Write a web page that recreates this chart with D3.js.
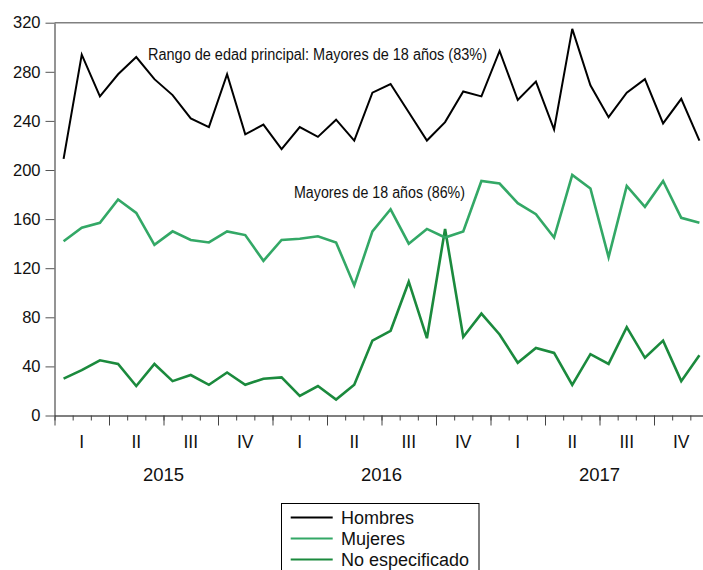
<!DOCTYPE html>
<html>
<head>
<meta charset="utf-8">
<script src="https://cdn.jsdelivr.net/npm/d3@7"></script>
<style>
  html, body { margin: 0; padding: 0; background: #fff; overflow: hidden; }
  svg { display: block; font-family: "Liberation Sans", Arial, sans-serif; }
</style>
</head>
<body>
<svg id="chart" width="703" height="570"></svg>
<script>
// ---- data ----
const months = d3.range(36); // Jan 2015 .. Dec 2017
const quarterLabels = ["I", "II", "III", "IV", "I", "II", "III", "IV", "I", "II", "III", "IV"];
const yearLabels = ["2015", "2016", "2017"];
const yTicks = [0, 40, 80, 120, 160, 200, 240, 280, 320];

const hombres = [209, 294, 260, 278, 292, 274, 261, 242, 235, 278, 229, 237,
                 217, 235, 227, 241, 224, 263, 270, 247, 224, 239, 264, 260,
                 297, 257, 272, 233, 315, 269, 243, 263, 274, 238, 258, 224];
const mujeres = [142, 153, 157, 176, 165, 139, 150, 143, 141, 150, 147, 126,
                 143, 144, 146, 141, 106, 150, 168, 140, 152, 145, 150, 191,
                 189, 173, 164, 145, 196, 185, 129, 187, 170, 191, 161, 157];
const noEspecificado = [30, 37, 45, 42, 24, 42, 28, 33, 25, 35, 25, 30,
                        31, 16, 24, 13, 25, 61, 69, 109, 63, 152, 64, 83,
                        66, 43, 55, 51, 25, 50, 42, 72, 47, 61, 28, 49];

const seriesNames = ["Hombres", "Mujeres", "No especificado"];
const seriesColors = ["#000000", "#33a866", "#1b8a3d"];
const annotations = ["Rango de edad principal: Mayores de 18 años (83%)", "Mayores de 18 años (86%)"];

// ---- layout ----
const svg = d3.select("#chart");
const mLeft = 54.5, mRight = 708.5, mTop = 22.7, mBottom = 415.5;

const x = d3.scaleLinear().domain([0, 36]).range([mLeft, mRight]);
const y = d3.scaleLinear().domain([0, 320]).range([mBottom, mTop]);

// frame (top border)
svg.append("line")
  .attr("x1", mLeft).attr("x2", mRight).attr("y1", mTop).attr("y2", mTop)
  .attr("stroke", "#808080").attr("stroke-width", 1.5);

// y axis
const yAxis = svg.append("g")
  .attr("transform", `translate(${mLeft},0)`)
  .call(d3.axisLeft(y).tickValues(yTicks).tickSize(9).tickPadding(5).tickSizeOuter(0));
yAxis.select(".domain").attr("stroke", "#707070").attr("stroke-width", 1.5);
yAxis.selectAll(".tick line").attr("stroke", "#555");
yAxis.selectAll(".tick text")
  .attr("font-size", 16.5).attr("fill", "#111")
  .attr("font-family", "Liberation Sans, Arial, sans-serif");

// x axis: minor (month) ticks
const xMinor = svg.append("g")
  .attr("transform", `translate(0,${mBottom})`)
  .call(d3.axisBottom(x).tickValues(d3.range(0, 37)).tickSize(5).tickFormat("").tickSizeOuter(0));
xMinor.select(".domain").attr("stroke", "#555").attr("stroke-width", 1.5);
xMinor.selectAll(".tick line").attr("stroke", "#444");

// x axis: major (quarter) ticks
const xMajor = svg.append("g")
  .attr("transform", `translate(0,${mBottom})`)
  .call(d3.axisBottom(x).tickValues(d3.range(0, 37, 3)).tickSize(10).tickFormat("").tickSizeOuter(0));
xMajor.select(".domain").remove();
xMajor.selectAll(".tick line").attr("stroke", "#444");

// quarter labels
svg.append("g").selectAll("text")
  .data(quarterLabels)
  .join("text")
  .attr("x", (d, i) => x(i * 3 + 1.5))
  .attr("y", 448)
  .attr("text-anchor", "middle")
  .attr("font-size", 17.5)
  .attr("fill", "#111")
  .text(d => d);

// year labels
svg.append("g").selectAll("text")
  .data(yearLabels)
  .join("text")
  .attr("x", (d, i) => x(i * 12 + 6))
  .attr("y", 480.5)
  .attr("text-anchor", "middle")
  .attr("font-size", 18.5)
  .attr("fill", "#111")
  .text(d => d);

// lines
const line = d3.line()
  .x((d, i) => x(i + 0.5))
  .y(d => y(d));

const allSeries = [hombres, mujeres, noEspecificado];
const widths = [2, 2.6, 2.6];
[2, 1, 0].forEach(k => {
  svg.append("path")
    .datum(allSeries[k])
    .attr("fill", "none")
    .attr("stroke", seriesColors[k])
    .attr("stroke-width", widths[k])
    .attr("stroke-linejoin", "miter")
    .attr("d", line);
});

// annotations
svg.append("text")
  .attr("x", 148).attr("y", 59.5)
  .attr("font-size", 16)
  .attr("textLength", 339).attr("lengthAdjust", "spacingAndGlyphs")
  .attr("fill", "#111")
  .text(annotations[0]);
svg.append("text")
  .attr("x", 294).attr("y", 197.7)
  .attr("font-size", 16)
  .attr("textLength", 171).attr("lengthAdjust", "spacingAndGlyphs")
  .attr("fill", "#111")
  .text(annotations[1]);

// legend
const lg = svg.append("g");
lg.append("rect")
  .attr("x", 281.5).attr("y", 503.5).attr("width", 197.5).attr("height", 90)
  .attr("fill", "#fff").attr("stroke", "#000").attr("stroke-width", 1);
const legendY = [517.5, 538.5, 559.5];
seriesNames.forEach((name, i) => {
  lg.append("line")
    .attr("x1", 290.7).attr("x2", 332.7)
    .attr("y1", legendY[i]).attr("y2", legendY[i])
    .attr("stroke", seriesColors[i]).attr("stroke-width", 2);
  lg.append("text")
    .attr("x", 341).attr("y", legendY[i] + 6)
    .attr("font-size", 18)
    .attr("fill", "#111")
    .text(name);
});
</script>
</body>
</html>
